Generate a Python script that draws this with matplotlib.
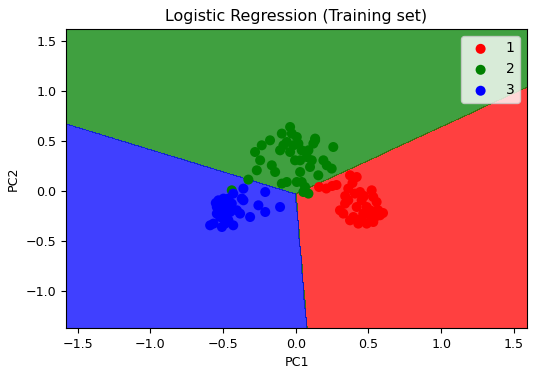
import matplotlib
matplotlib.use("Agg")
import matplotlib.pyplot as plt
import numpy as np
from matplotlib.colors import ListedColormap

# PCA-projected training points, one list per class
RED_X = [0.16, 0.21, 0.25, 0.28, 0.373, 0.419, 0.361, 0.442, 0.407, 0.522, 0.533, 0.361, 0.339,
         0.453, 0.556, 0.419, 0.488, 0.51, 0.464, 0.304, 0.327, 0.567, 0.579, 0.545, 0.396, 0.373,
         0.43, 0.488, 0.533, 0.453, 0.50, 0.52, 0.60, 0.47, 0.39, 0.34, 0.55]
RED_Y = [0.04, 0.025, 0.05, 0.06, 0.157, 0.14, 0.024, -0.01, -0.026, 0.007, -0.06, -0.093, -0.126,
         -0.093, -0.11, -0.16, -0.16, -0.193, -0.226, -0.193, -0.226, -0.193, -0.243, -0.26, -0.26, -0.293,
         -0.326, -0.326, -0.31, -0.276, -0.23, -0.28, -0.22, -0.05, 0.08, -0.05, -0.2]

GREEN_X = [-0.039, -0.096, -0.027, 0.007, -0.062, 0.018, -0.085, -0.016, -0.177, -0.234, -0.28,
           -0.245, -0.108, -0.039, 0.041, 0.087, 0.133, 0.121, 0.258, 0.076, 0.03, -0.005, 0.11,
           0.19, 0.213, 0.247, 0.098, 0.03, 0.155, -0.268, -0.165, -0.142, -0.062, -0.096, 0.007,
           0.041, 0.064, 0.052, 0.087, -0.326, -0.44, 0.133]
GREEN_Y = [0.64, 0.574, 0.574, 0.54, 0.49, 0.474, 0.457, 0.457, 0.507, 0.457, 0.39,
           0.307, 0.407, 0.39, 0.407, 0.407, 0.524, 0.474, 0.44, 0.34, 0.307, 0.307, 0.307,
           0.307, 0.257, 0.224, 0.24, 0.19, 0.157, 0.207, 0.257, 0.19, 0.09, 0.074, 0.09,
           0.09, 0.04, -0.01, -0.026, 0.114, 0.007, 0.507]

BLUE_X = [-0.36, -0.21, -0.43, -0.532, -0.497, -0.463, -0.36, -0.371, -0.257, -0.108, -0.543,
          -0.508, -0.474, -0.44, -0.405, -0.383, -0.21, -0.314, -0.543, -0.52, -0.486, -0.451,
          -0.566, -0.508, -0.486, -0.43, -0.589, -0.463, -0.497, -0.55]
BLUE_Y = [0.024, -0.01, -0.026, -0.093, -0.076, -0.076, -0.093, -0.076, -0.143, -0.16, -0.16,
          -0.143, -0.143, -0.126, -0.193, -0.226, -0.21, -0.26, -0.226, -0.26, -0.226, -0.21,
          -0.326, -0.36, -0.326, -0.343, -0.343, -0.293, -0.19, -0.12]

CLASS_LABELS = ["1", "2", "3"]
CLASS_COLORS = ["red", "green", "blue"]

# linear classifier weights (one row per class) giving the decision regions
COEF = np.array([[0.0, 0.0], [-0.672, 1.0], [-1.144, -0.065]])
INTERCEPT = np.array([0.0, 0.03, -0.002])

XLIM = (-1.58, 1.59)
YLIM = (-1.37, 1.62)

plt.rcParams.update({"font.family": "DejaVu Sans", "font.size": 9.1})

fig = plt.figure(figsize=(5.47, 3.80), dpi=100)
ax = fig.add_axes([0.1207, 0.1368, 0.8427, 0.7869])

x1, x2 = np.meshgrid(np.arange(XLIM[0], XLIM[1] + 0.01, 0.005),
                     np.arange(YLIM[0], YLIM[1] + 0.01, 0.005))
grid = np.c_[x1.ravel(), x2.ravel()]
pred = np.argmax(grid @ COEF.T + INTERCEPT, axis=1).reshape(x1.shape)
ax.contourf(x1, x2, pred, levels=[-0.5, 0.5, 1.5, 2.5], alpha=0.75,
            cmap=ListedColormap(CLASS_COLORS))
ax.set_xlim(*XLIM)
ax.set_ylim(*YLIM)

points = [(RED_X, RED_Y), (GREEN_X, GREEN_Y), (BLUE_X, BLUE_Y)]
for (px, py), c, lab in zip(points, CLASS_COLORS, CLASS_LABELS):
    ax.scatter(px, py, c=c, s=52, label=lab, edgecolors="none")

ax.set_title("Logistic Regression (Training set)", fontsize=11.4)
ax.set_xlabel("PC1")
ax.set_ylabel("PC2")
ax.legend(loc="upper right", fontsize=10)

fig.savefig("out.png", dpi=100)
